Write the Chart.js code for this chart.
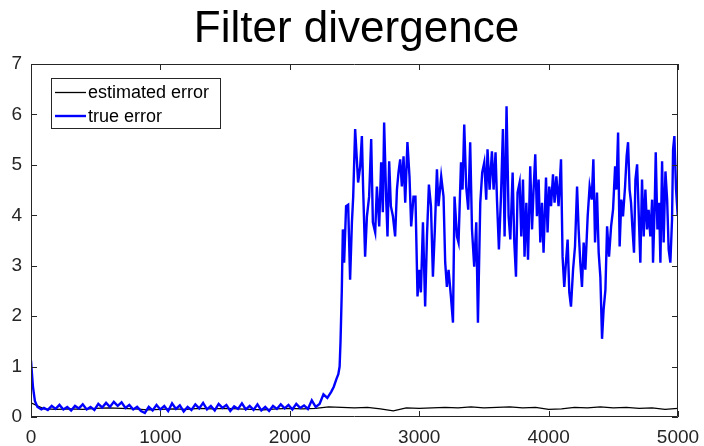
<!DOCTYPE html>
<html lang="en">
<head>
    <meta charset="UTF-8">
    <title>Filter divergence</title>
    <style>
        html, body { margin: 0; padding: 0; background: #fff; }
        .wrap { width: 704px; height: 446px; position: relative; }
    </style>
</head>
<body>
<div class="wrap">
    <canvas id="myChart" width="704" height="446"></canvas>
</div>

<script src="https://cdn.jsdelivr.net/npm/chart.js"></script>
<script>
    // valeurs
    const titleText = 'Filter divergence';
    const seriesNames = ['estimated error', 'true error'];
    const xTicks = [0, 1000, 2000, 3000, 4000, 5000];
    const yTicks = [0, 1, 2, 3, 4, 5, 6, 7];

    const estX = [0, 100, 200, 300, 400, 500, 600, 700, 800, 900, 1000, 1100, 1200, 1300, 1400, 1500, 1600, 1700, 1800, 1900,
        2000, 2100, 2200, 2300, 2400, 2500, 2600, 2700, 2800, 2900, 3000, 3100, 3200, 3300, 3400, 3500, 3600, 3700, 3800, 3900,
        4000, 4100, 4200, 4300, 4400, 4500, 4600, 4700, 4800, 4900, 5000];
    const estY = [0.28, 0.16, 0.15, 0.16, 0.15, 0.17, 0.18, 0.17, 0.16, 0.14, 0.15, 0.16, 0.15, 0.17, 0.16, 0.17, 0.16, 0.15, 0.14, 0.16,
        0.17, 0.16, 0.17, 0.20, 0.19, 0.18, 0.19, 0.16, 0.12, 0.18, 0.17, 0.18, 0.19, 0.18, 0.20, 0.18, 0.19, 0.20, 0.18, 0.19,
        0.15, 0.16, 0.19, 0.18, 0.20, 0.18, 0.19, 0.17, 0.18, 0.15, 0.17];

    const trueX = [0, 15, 30, 50, 80, 100, 130, 160, 190, 220, 250, 280, 310, 340, 370, 400, 430, 460, 490, 520,
        550, 580, 610, 640, 670, 700, 730, 760, 790, 820, 850, 880, 910, 940, 970, 1000, 1030, 1060, 1090, 1120,
        1150, 1180, 1210, 1240, 1270, 1300, 1330, 1360, 1390, 1420, 1450, 1480, 1510, 1540, 1570, 1600, 1630, 1660, 1690, 1720,
        1750, 1780, 1810, 1840, 1870, 1900, 1930, 1960, 1990, 2020, 2050, 2080, 2110, 2140, 2170, 2200, 2230, 2260, 2290, 2320,
        2340, 2360, 2375, 2385, 2392, 2402, 2410, 2420, 2435, 2451, 2466, 2480, 2490, 2505, 2518, 2528, 2544, 2557, 2567, 2582,
        2596, 2613, 2629, 2642, 2660, 2673, 2691, 2706, 2719, 2729, 2745, 2755, 2768, 2781, 2797, 2814, 2828, 2840, 2853, 2866,
        2879, 2892, 2909, 2925, 2938, 2956, 2971, 2987, 3002, 3013, 3029, 3046, 3060, 3075, 3091, 3106, 3121, 3137, 3149, 3170,
        3188, 3201, 3214, 3227, 3245, 3261, 3273, 3292, 3304, 3323, 3335, 3348, 3363, 3379, 3394, 3408, 3425, 3441, 3454, 3472,
        3487, 3503, 3518, 3528, 3544, 3562, 3575, 3590, 3601, 3616, 3632, 3647, 3660, 3675, 3691, 3704, 3722, 3735, 3748, 3760,
        3776, 3789, 3802, 3814, 3828, 3841, 3858, 3872, 3884, 3897, 3910, 3923, 3936, 3949, 3961, 3980, 3992, 4005, 4019, 4034,
        4046, 4060, 4077, 4096, 4108, 4121, 4134, 4147, 4160, 4173, 4189, 4204, 4220, 4232, 4245, 4258, 4271, 4284, 4302, 4317,
        4333, 4346, 4359, 4374, 4387, 4400, 4413, 4425, 4439, 4452, 4467, 4483, 4498, 4514, 4524, 4537, 4549, 4562, 4575, 4591,
        4603, 4614, 4626, 4637, 4647, 4660, 4671, 4684, 4696, 4709, 4722, 4735, 4748, 4761, 4773, 4786, 4800, 4807, 4820, 4828,
        4841, 4854, 4864, 4877, 4889, 4903, 4916, 4928, 4941, 4954, 4962, 4972, 4985, 4995, 5000];
    const trueY = [1.12, 0.60, 0.32, 0.20, 0.15, 0.18, 0.14, 0.22, 0.16, 0.24, 0.15, 0.20, 0.13, 0.22, 0.17, 0.25, 0.15, 0.20, 0.14, 0.26,
        0.19, 0.28, 0.20, 0.30, 0.22, 0.29, 0.18, 0.24, 0.15, 0.20, 0.12, 0.08, 0.20, 0.13, 0.24, 0.15, 0.22, 0.12, 0.27, 0.16,
        0.23, 0.11, 0.20, 0.14, 0.25, 0.17, 0.28, 0.15, 0.22, 0.13, 0.26, 0.18, 0.24, 0.12, 0.21, 0.16, 0.27, 0.15, 0.22, 0.14,
        0.25, 0.13, 0.20, 0.12, 0.22, 0.16, 0.25, 0.17, 0.24, 0.15, 0.26, 0.18, 0.23, 0.16, 0.33, 0.20, 0.26, 0.45, 0.38, 0.50,
        0.60, 0.75, 0.85, 1.00, 1.50, 2.52, 3.72, 3.06, 4.18, 4.21, 2.72, 3.86, 4.37, 5.71, 5.11, 4.65, 4.97, 5.57, 4.51, 3.18,
        3.98, 4.37, 5.51, 3.86, 3.66, 4.57, 3.78, 5.05, 4.06, 5.84, 4.31, 3.58, 5.07, 4.18, 3.98, 3.58, 4.51, 4.85, 5.11, 4.57,
        5.17, 4.25, 5.45, 4.77, 3.78, 4.37, 4.37, 2.39, 2.92, 2.47, 3.86, 2.19, 3.58, 4.61, 4.18, 2.78, 3.72, 4.91, 4.18, 4.77,
        4.37, 3.06, 2.58, 2.92, 2.39, 1.87, 4.37, 3.58, 3.46, 5.05, 4.51, 5.80, 4.57, 4.11, 5.45, 3.72, 2.98, 3.86, 1.87, 4.25,
        4.85, 5.05, 4.31, 5.31, 4.51, 5.27, 4.51, 5.25, 4.31, 3.32, 4.37, 5.71, 3.58, 6.16, 3.98, 3.52, 4.85, 3.46, 2.78, 4.45,
        4.65, 3.58, 4.71, 3.18, 4.25, 3.12, 4.97, 3.72, 4.51, 5.21, 3.98, 4.71, 3.46, 4.25, 3.26, 4.75, 3.66, 4.57, 4.18, 4.81,
        4.25, 4.77, 4.18, 5.11, 3.18, 2.58, 3.06, 3.52, 2.47, 2.19, 2.92, 3.38, 4.57, 3.72, 3.06, 2.58, 3.46, 2.92, 3.98, 4.57,
        4.31, 5.11, 3.46, 4.45, 3.26, 2.78, 1.55, 2.13, 2.52, 3.78, 3.18, 3.78, 4.11, 4.97, 4.51, 5.64, 3.38, 4.31, 3.98, 4.57,
        5.17, 5.45, 4.51, 4.25, 3.78, 3.26, 4.71, 5.01, 4.06, 3.06, 4.71, 3.58, 4.51, 3.72, 4.11, 3.58, 4.31, 3.06, 4.18, 5.25,
        3.72, 4.25, 3.06, 5.07, 3.46, 4.87, 4.31, 3.32, 3.06, 3.92, 5.31, 5.57, 4.51, 4.11, 4.15];

    const axisColor = '#262626';

    // titre centré sur la zone du graphique (comme matlab)
    const titlePlugin = {
        id: 'topTitle',
        afterDraw(chart) {
            const ctx = chart.ctx;
            const a = chart.chartArea;
            ctx.save();
            ctx.fillStyle = '#000';
            ctx.font = '44px "Liberation Sans", Arial, sans-serif';
            ctx.textAlign = 'center';
            ctx.textBaseline = 'alphabetic';
            ctx.fillText(titleText, (a.left + a.right) / 2 + 2, 42);
            ctx.restore();
        }
    };

    // cadre + graduations vers l'intérieur (style matlab)
    const boxPlugin = {
        id: 'boxPlugin',
        afterDatasetsDraw(chart) {
            const ctx = chart.ctx;
            const a = chart.chartArea;
            const xs = chart.scales.x, ys = chart.scales.y;
            const len = 6;
            ctx.save();
            ctx.strokeStyle = axisColor;
            ctx.lineWidth = 1;
            ctx.beginPath();
            ctx.rect(a.left + 0.5, a.top + 0.5, a.right - a.left - 1, a.bottom - a.top - 1);
            xTicks.forEach(v => {
                const px = Math.round(xs.getPixelForValue(v)) + 0.5;
                ctx.moveTo(px, a.bottom); ctx.lineTo(px, a.bottom - len);
                ctx.moveTo(px, a.top); ctx.lineTo(px, a.top + len);
            });
            yTicks.forEach(v => {
                const py = Math.round(ys.getPixelForValue(v)) + 0.5;
                ctx.moveTo(a.left, py); ctx.lineTo(a.left + len, py);
                ctx.moveTo(a.right, py); ctx.lineTo(a.right - len, py);
            });
            ctx.stroke();
            ctx.restore();
        }
    };

    // légende dans le coin haut gauche
    const legendPlugin = {
        id: 'boxLegend',
        afterDraw(chart) {
            const ctx = chart.ctx;
            const a = chart.chartArea;
            const x0 = a.left + 20, y0 = a.top + 14;
            const w = 169, h = 50;
            ctx.save();
            ctx.fillStyle = '#fff';
            ctx.fillRect(x0, y0, w, h);
            ctx.strokeStyle = axisColor;
            ctx.lineWidth = 1;
            ctx.strokeRect(x0 + 0.5, y0 + 0.5, w, h);
            ctx.font = '18px "Liberation Sans", Arial, sans-serif';
            ctx.textBaseline = 'middle';
            chart.data.datasets.forEach((ds, i) => {
                const cy = y0 + 14.5 + i * 23.5;
                ctx.strokeStyle = ds.borderColor;
                ctx.lineWidth = ds.borderWidth;
                ctx.beginPath();
                ctx.moveTo(x0 + 4, cy);
                ctx.lineTo(x0 + 35, cy);
                ctx.stroke();
                ctx.fillStyle = '#000';
                ctx.fillText(ds.label, x0 + 37, cy + 1);
            });
            ctx.restore();
        }
    };

    const ctx = document.getElementById('myChart');
    new Chart(ctx, {
        type: 'line',
        data: {
            datasets: [{
                label: seriesNames[0],
                data: estX.map((x, i) => ({x: x, y: estY[i]})),
                borderColor: '#000000',
                borderWidth: 1.3,
                pointRadius: 0,
                tension: 0,
                order: 1
            }, {
                label: seriesNames[1],
                data: trueX.map((x, i) => ({x: x, y: trueY[i]})),
                borderColor: '#0000ff',
                borderWidth: 2.4,
                pointRadius: 0,
                tension: 0,
                order: 0
            }]
        },
        options: {
            responsive: false,
            animation: false,
            layout: {padding: {left: 0, right: 26, top: 64, bottom: 0}},
            plugins: {
                legend: {display: false},
                tooltip: {enabled: false},
                title: {display: false}
            },
            scales: {
                x: {
                    type: 'linear',
                    min: 0,
                    max: 5000,
                    afterBuildTicks: s => { s.ticks = xTicks.map(v => ({value: v})); },
                    afterFit: s => { s.height = 29; s.paddingLeft = 0; s.paddingRight = 0; },
                    grid: {drawOnChartArea: false, drawTicks: false},
                    border: {display: false},
                    ticks: {
                        color: axisColor,
                        padding: 9,
                        maxRotation: 0,
                        callback: v => String(v),
                        font: {family: '"Liberation Sans", Arial, sans-serif', size: 19}
                    }
                },
                y: {
                    type: 'linear',
                    min: 0,
                    max: 7,
                    afterBuildTicks: s => { s.ticks = yTicks.map(v => ({value: v})); },
                    afterFit: s => { s.width = 31; },
                    grid: {drawOnChartArea: false, drawTicks: false},
                    border: {display: false},
                    ticks: {
                        color: axisColor,
                        padding: 9,
                        callback: v => String(v),
                        font: {family: '"Liberation Sans", Arial, sans-serif', size: 19}
                    }
                }
            }
        },
        plugins: [boxPlugin, legendPlugin, titlePlugin]
    });
</script>
</body>
</html>
